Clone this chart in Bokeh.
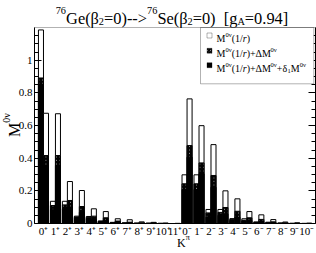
import math
import numpy as np
from bokeh.plotting import figure
from bokeh.models import (FixedTicker, LinearAxis, Label, BoxAnnotation, Range1d,
                          ColumnDataSource)
from bokeh.embed import file_html
from bokeh.resources import INLINE

# ---------------- data ----------------
k_labels = ["0⁺", "1⁺", "2⁺", "3⁺", "4⁺", "5⁺", "6⁺", "7⁺", "8⁺", "9⁺", "10⁺", "11⁺",
            "0⁻", "1⁻", "2⁻", "3⁻", "4⁻", "5⁻", "6⁻", "7⁻", "8⁻", "9⁻", "10⁻"]

# left bar of each K^pi
left_m = [1.185, 0.136, 0.136, 0.045, 0.043, 0.016, 0.007, 0.004, 0.002, 0.002, 0.001, 0.0,
          0.298, 0.298, 0.086, 0.086, 0.030, 0.029, 0.010, 0.008, 0.003, 0.001, 0.001]
left_dm = [0.891, 0.110, 0.114, 0.040, 0.038, 0.012, 0.005, 0.003, 0.002, 0.001, 0.001, 0.0,
           0.243, 0.243, 0.065, 0.068, 0.025, 0.020, 0.006, 0.005, 0.002, 0.001, 0.0]
left_full = [0.854, 0.084, 0.090, 0.032, 0.030, 0.010, 0.004, 0.002, 0.001, 0.001, 0.0, 0.0,
             0.208, 0.208, 0.039, 0.050, 0.018, 0.015, 0.004, 0.004, 0.001, 0.0, 0.0]

# right bar of each K^pi
right_m = [0.675, 0.672, 0.257, 0.202, 0.090, 0.073, 0.029, 0.023, 0.010, 0.007, 0.002, 0.001,
           0.763, 0.599, 0.483, 0.200, 0.151, 0.073, 0.053, 0.024, 0.009, 0.004, 0.002]
right_dm = [0.416, 0.416, 0.141, 0.104, 0.045, 0.035, 0.015, 0.008, 0.004, 0.004, 0.001, 0.0,
            0.477, 0.371, 0.294, 0.098, 0.075, 0.035, 0.025, 0.010, 0.004, 0.002, 0.001]
right_full = [0.355, 0.355, 0.100, 0.069, 0.024, 0.018, 0.008, 0.004, 0.002, 0.003, 0.001, 0.0,
              0.406, 0.304, 0.222, 0.059, 0.039, 0.018, 0.012, 0.006, 0.002, 0.001, 0.0]

y_ticks = [0.0, 0.2, 0.4, 0.6, 0.8, 1.0]
y_tick_labels = ["0", "0.2", "0.4", "0.6", "0.8", "1"]

# ---------------- layout ----------------
W, H = 316, 253
FONT = "Liberation Serif"
XL, XR = -0.75, 22.76          # plot box in data units
YB, YT = 0.0, 1.2
PX_L, PX_R, PX_T, PX_B = 34.0, 315.3, 27.0, 223.0   # plot box in pixels
sx_ = (PX_R - PX_L) / (XR - XL)
sy_ = (PX_B - PX_T) / (YT - YB)
x_start = XL - PX_L / sx_
x_end = XL + (W - PX_L) / sx_
y_start = YB - (H - PX_B) / sy_
y_end = YB + PX_B / sy_

p = figure(width=W, height=H, x_range=Range1d(x_start, x_end),
           y_range=Range1d(y_start, y_end), min_border=0,
           x_axis_location=None, y_axis_location=None,
           toolbar_location=None, output_backend="svg", title=None)
p.grid.visible = False
p.outline_line_color = None
p.background_fill_color = "white"
p.border_fill_color = "white"

xs = np.arange(len(k_labels))
off, bw = 0.21, 0.42
src = ColumnDataSource(dict(xl=xs - off, xr=xs + off,
                            lm=left_m, ldm=left_dm, lf=left_full,
                            rm=right_m, rdm=right_dm, rf=right_full))
for xcol, a, b, c in (("xl", "lm", "ldm", "lf"), ("xr", "rm", "rdm", "rf")):
    p.vbar(x=xcol, top=a, bottom=0, width=bw, source=src, fill_color="white",
           line_color="black", line_width=1)
    p.vbar(x=xcol, top=b, bottom=0, width=bw, source=src, fill_color="white",
           hatch_pattern="\\", hatch_color="black", hatch_scale=3.5, hatch_weight=1.6,
           line_color="black", line_width=1)
    p.vbar(x=xcol, top=c, bottom=0, width=bw, source=src, fill_color="black",
           line_color="black", line_width=1)

# plot box
p.add_layout(BoxAnnotation(left=XL, right=XR, bottom=YB, top=YT, fill_alpha=0,
                           line_color="black", line_width=1, level="overlay"))

# axes
xa = LinearAxis(fixed_location=YB, bounds=(XL, XR),
                ticker=FixedTicker(ticks=list(range(len(k_labels))), minor_ticks=[]),
                major_label_overrides={i: s for i, s in enumerate(k_labels)},
                major_tick_in=0, major_tick_out=0, minor_tick_in=0, minor_tick_out=0,
                axis_line_color="black", major_label_text_font=FONT,
                major_label_text_font_size="11px", major_label_text_color="black",
                major_label_standoff=1)
p.add_layout(xa, "below")

minor = [round(v, 2) for v in np.arange(0.05, 1.2, 0.05) if round(v, 2) not in y_ticks]
ya = LinearAxis(fixed_location=XL, bounds=(YB, YT),
                ticker=FixedTicker(ticks=y_ticks, minor_ticks=minor),
                major_label_overrides={t: s for t, s in zip(y_ticks, y_tick_labels)},
                major_tick_in=7, major_tick_out=0, minor_tick_in=4, minor_tick_out=0,
                axis_line_color="black", major_tick_line_color="black",
                minor_tick_line_color="black", major_label_text_font=FONT,
                major_label_text_font_size="11px", major_label_text_color="black",
                major_label_standoff=2)
p.add_layout(ya, "left")

ra = LinearAxis(fixed_location=XR, bounds=(YB, YT),
                ticker=FixedTicker(ticks=y_ticks, minor_ticks=minor),
                major_tick_in=7, major_tick_out=0, minor_tick_in=4, minor_tick_out=0,
                major_label_text_font_size="0px", major_label_standoff=0,
                major_label_text_color=None, axis_line_color="black")
p.add_layout(ra, "right")

# ---------------- rich text helper ----------------
TNR = {' ': 250, '(': 333, ')': 333, '/': 278, 'r': 333, '+': 564, '=': 564, '-': 333,
       '>': 564, '[': 333, ']': 333, '.': 250, 'G': 722, 'e': 444, 'S': 556, 'g': 500,
       'A': 722, 'M': 889, 'K': 722, 'β': 500, 'ν': 460, 'Δ': 612, 'δ': 500, 'π': 549}


def twidth(t, size, italic=False):
    tot = 0
    for ch in t:
        if italic and ch == 'r':
            tot += 389
        else:
            tot += TNR.get(ch, 500)
    return tot * size / 1000.0


def place(cx, cy, text, size, angle=0.0, italic=False):
    p.add_layout(Label(x=cx, y=H - cy, x_units="screen", y_units="screen",
                       text=text, text_font=FONT, text_font_size=f"{size:.1f}px",
                       text_baseline="alphabetic", text_align="left", angle=angle,
                       text_color="black",
                       text_font_style="italic" if italic else "normal"))


def rich(pieces, cx, cy, size, angle=0.0, center=False, ss=0.62, rise=0.4, drop=0.16):
    segs = []
    for t, k in pieces:
        s = size * ss if k in ("sup", "sub") else size
        if k == "sp":
            segs.append((None, k, s, t * size / 1000.0))
        else:
            segs.append((t, k, s, twidth(t, s, k == "it")))
    total = sum(sg[3] for sg in segs)
    adv = -total / 2 if center else 0.0
    d = (math.cos(angle), -math.sin(angle))
    u = (-math.sin(angle), -math.cos(angle))
    for t, k, s, w in segs:
        if t is not None:
            r = rise * size if k == "sup" else (-drop * size if k == "sub" else 0.0)
            place(cx + d[0] * adv + u[0] * r, cy + d[1] * adv + u[1] * r, t, s, angle,
                  italic=(k == "it"))
        adv += w


# title
rich([("76", "sup"), ("Ge(β", "n"), ("2", "sub"), ("=0)-->", "n"), ("76", "sup"),
      ("Se(β", "n"), ("2", "sub"), ("=0)", "n"), (500, "sp"), ("[g", "n"), ("A", "sub"),
      ("=0.94]", "n")], 171.5, 18.3, 16.4, center=True, ss=0.63, rise=0.5, drop=0.15)

# axis titles
rich([("M", "n"), ("0ν", "sup")], 13.5, 136.5, 16, angle=math.pi / 2, ss=0.62, rise=0.45)
rich([("K", "n"), ("π", "sup")], 176.5, 242.7, 12, ss=0.68, rise=0.45)

# legend
p.add_layout(BoxAnnotation(left=200, right=313.3, top=H - 27, bottom=H - 83.3,
                           left_units="screen", right_units="screen", top_units="screen",
                           bottom_units="screen", fill_color="white", fill_alpha=1,
                           line_color="black", line_width=1))
sq = [(35.0, dict(fill_color="white")),
      (50.3, dict(fill_color="white", hatch_pattern="\\", hatch_color="black",
                  hatch_scale=3, hatch_weight=1.3)),
      (64.7, dict(fill_color="black"))]
for cy, kw in sq:
    p.add_layout(BoxAnnotation(left=209 - 2.5, right=209 + 2.5,
                               top=H - (cy - 2.5), bottom=H - (cy + 2.5),
                               left_units="screen", right_units="screen",
                               top_units="screen", bottom_units="screen", fill_alpha=1,
                               line_color="black", line_width=1, **kw))
e1 = [("M", "n"), ("0ν", "sup"), ("(1/", "n"), ("r", "it"), (")", "n")]
e2 = e1 + [("+ΔM", "n"), ("0ν", "sup")]
e3 = e2 + [("+δ", "n"), ("1", "sub"), ("M", "n"), ("0ν", "sup")]
for cy, e in ((38.3, e1), (53.3, e2), (68.3, e3)):
    rich(e, 216, cy, 10, ss=0.65, rise=0.42, drop=0.2)

open("out.html", "w").write(file_html(p, INLINE))
